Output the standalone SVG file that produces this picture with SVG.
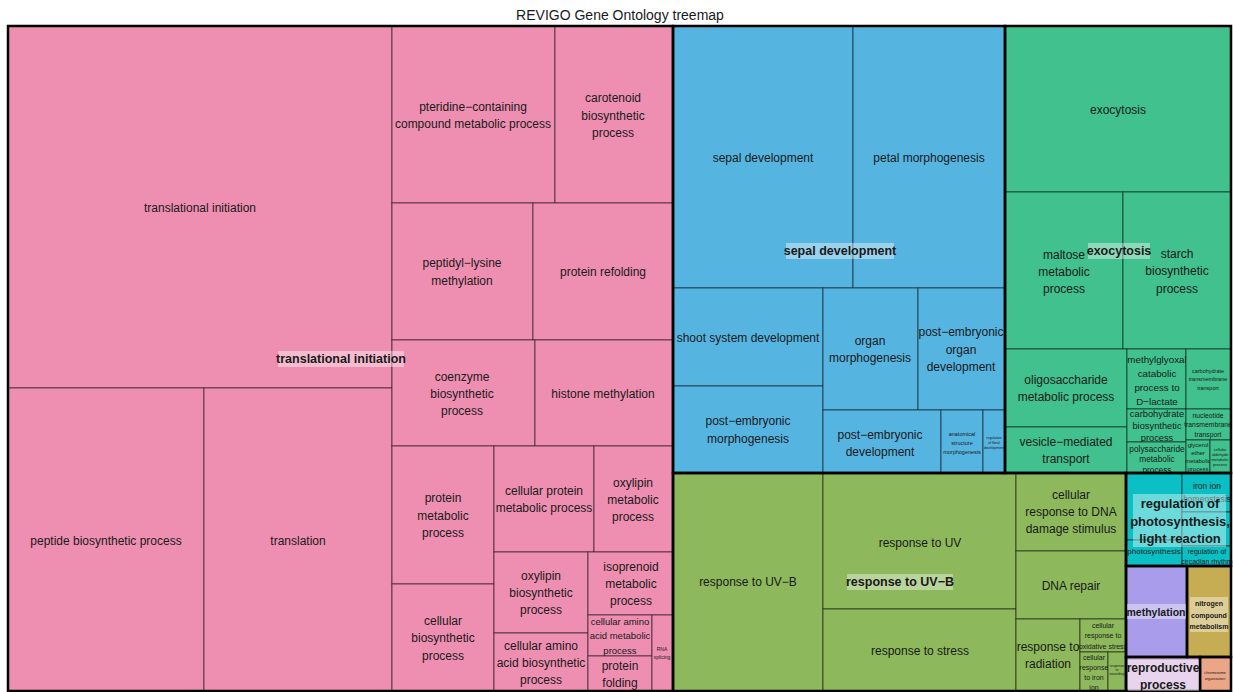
<svg xmlns="http://www.w3.org/2000/svg" width="1233" height="692" viewBox="0 0 1233 692">
<style>
text{font-family:"Liberation Sans",Arial,sans-serif;text-anchor:middle;dominant-baseline:central;fill:#1a1a1a}
.c rect{stroke:#000;stroke-opacity:0.55;stroke-width:1}
.pk{fill:#EE8FB1}.bl{fill:#56B4E1}.tg{fill:#40C18D}.og{fill:#8DB85C}.cy{fill:#0AC0C4}.pu{fill:#A99DEB}.ol{fill:#C6AD53}.li{fill:#D9B7E1}.sa{fill:#EBA688}
.grp{fill:none;stroke:#000;stroke-width:2.5}
.t{font-size:12px}
.b{font-weight:bold}
.bg{fill:#fff;fill-opacity:0.4}
</style>
<rect width="1233" height="692" fill="#fff"/>
<text x="620" y="15" style="font-size:14px">REVIGO Gene Ontology treemap</text>

<g id="pink" class="c">
<g id="n-translational-initiation"><rect class="pk" x="8" y="26" width="384" height="362"/><text class="t" x="200" y="208">translational initiation</text></g>
<g id="n-peptide-biosynthetic"><rect class="pk" x="8" y="388" width="196" height="303"/><text class="t" x="106" y="541">peptide biosynthetic process</text></g>
<g id="n-translation"><rect class="pk" x="204" y="388" width="188" height="303"/><text class="t" x="298" y="541">translation</text></g>
<g id="n-pteridine"><rect class="pk" x="392" y="26" width="163" height="177"/><text class="t" x="473" y="107">pteridine−containing</text><text class="t" x="473" y="124">compound metabolic process</text></g>
<g id="n-carotenoid"><rect class="pk" x="555" y="26" width="118" height="177"/><text class="t" x="613" y="98">carotenoid</text><text class="t" x="613" y="116">biosynthetic</text><text class="t" x="613" y="133">process</text></g>
<g id="n-peptidyl-lysine"><rect class="pk" x="392" y="203" width="141" height="137"/><text class="t" x="462" y="263">peptidyl−lysine</text><text class="t" x="462" y="281">methylation</text></g>
<g id="n-protein-refolding"><rect class="pk" x="533" y="203" width="140" height="137"/><text class="t" x="603" y="272">protein refolding</text></g>
<g id="n-coenzyme"><rect class="pk" x="392" y="340" width="143" height="106"/><text class="t" x="462" y="377">coenzyme</text><text class="t" x="462" y="394">biosynthetic</text><text class="t" x="462" y="411">process</text></g>
<g id="n-histone-methylation"><rect class="pk" x="535" y="340" width="138" height="106"/><text class="t" x="603" y="394">histone methylation</text></g>
<g id="n-protein-metabolic"><rect class="pk" x="392" y="446" width="102" height="138"/><text class="t" x="443" y="498">protein</text><text class="t" x="443" y="516">metabolic</text><text class="t" x="443" y="533">process</text></g>
<g id="n-cellular-biosynthetic"><rect class="pk" x="392" y="584" width="102" height="107"/><text class="t" x="443" y="621">cellular</text><text class="t" x="443" y="638">biosynthetic</text><text class="t" x="443" y="656">process</text></g>
<g id="n-cellular-protein-metabolic"><rect class="pk" x="494" y="446" width="100" height="106"/><text class="t" x="544" y="491">cellular protein</text><text class="t" x="544" y="508">metabolic process</text></g>
<g id="n-oxylipin-metabolic"><rect class="pk" x="594" y="446" width="79" height="106"/><text class="t" x="633" y="483">oxylipin</text><text class="t" x="633" y="500">metabolic</text><text class="t" x="633" y="517">process</text></g>
<g id="n-oxylipin-biosynthetic"><rect class="pk" x="494" y="552" width="94" height="81"/><text class="t" x="541" y="576">oxylipin</text><text class="t" x="541" y="593">biosynthetic</text><text class="t" x="541" y="610">process</text></g>
<g id="n-cellular-amino-acid-biosynthetic"><rect class="pk" x="494" y="633" width="94" height="58"/><text class="t" x="541" y="646">cellular amino</text><text class="t" x="541" y="663">acid biosynthetic</text><text class="t" x="541" y="680">process</text></g>
<g id="n-isoprenoid"><rect class="pk" x="588" y="552" width="85" height="63"/><text class="t" x="631" y="567">isoprenoid</text><text class="t" x="631" y="584">metabolic</text><text class="t" x="631" y="601">process</text></g>
<g id="n-cellular-amino-acid-metabolic"><rect class="pk" x="588" y="615" width="64" height="41"/><text x="620" y="621" style="font-size:9.5px">cellular amino</text><text x="620" y="635" style="font-size:9.5px">acid metabolic</text><text x="620" y="650" style="font-size:9.5px">process</text></g>
<g id="n-protein-folding"><rect class="pk" x="588" y="656" width="64" height="35"/><text class="t" x="620" y="666">protein</text><text class="t" x="620" y="683">folding</text></g>
<g id="n-rna-splicing"><rect class="pk" x="652" y="615" width="21" height="76"/><text x="662" y="649" style="font-size:5px">RNA</text><text x="662" y="657" style="font-size:5px">splicing</text></g>
</g>

<g id="blue" class="c">
<g id="n-sepal-development"><rect class="bl" x="673" y="26" width="180" height="262"/><text class="t" x="763" y="158">sepal development</text></g>
<g id="n-petal-morphogenesis"><rect class="bl" x="853" y="26" width="152" height="262"/><text class="t" x="929" y="158">petal morphogenesis</text></g>
<g id="n-shoot-system"><rect class="bl" x="673" y="288" width="150" height="98"/><text class="t" x="748" y="338">shoot system development</text></g>
<g id="n-post-embryonic-morphogenesis"><rect class="bl" x="673" y="386" width="150" height="87"/><text class="t" x="748" y="421">post−embryonic</text><text class="t" x="748" y="439">morphogenesis</text></g>
<g id="n-organ-morphogenesis"><rect class="bl" x="823" y="288" width="95" height="122"/><text class="t" x="870" y="341">organ</text><text class="t" x="870" y="358">morphogenesis</text></g>
<g id="n-post-embryonic-organ"><rect class="bl" x="918" y="288" width="87" height="122"/><text class="t" x="961" y="332">post−embryonic</text><text class="t" x="961" y="350">organ</text><text class="t" x="961" y="367">development</text></g>
<g id="n-post-embryonic-development"><rect class="bl" x="823" y="410" width="118" height="63"/><text class="t" x="880" y="435">post−embryonic</text><text class="t" x="880" y="452">development</text></g>
<g id="n-anatomical-structure"><rect class="bl" x="941" y="410" width="42" height="63"/><text x="962" y="434" style="font-size:5.5px">anatomical</text><text x="962" y="443" style="font-size:5.5px">structure</text><text x="962" y="452" style="font-size:5.5px">morphogenesis</text></g>
<g id="n-regulation-development"><rect class="bl" x="983" y="410" width="22" height="63"/><text x="994" y="438" style="font-size:3.5px">regulation</text><text x="994" y="443" style="font-size:3.5px">of floral</text><text x="994" y="448" style="font-size:3.5px">development</text></g>
</g>

<g id="teal" class="c">
<g id="n-exocytosis"><rect class="tg" x="1005" y="26" width="226" height="166"/><text class="t" x="1118" y="110">exocytosis</text></g>
<g id="n-maltose"><rect class="tg" x="1005" y="192" width="118" height="157"/><text class="t" x="1064" y="255">maltose</text><text class="t" x="1064" y="272">metabolic</text><text class="t" x="1064" y="289">process</text></g>
<g id="n-starch"><rect class="tg" x="1123" y="192" width="108" height="157"/><text class="t" x="1177" y="254">starch</text><text class="t" x="1177" y="271">biosynthetic</text><text class="t" x="1177" y="289">process</text></g>
<g id="n-oligosaccharide"><rect class="tg" x="1005" y="349" width="122" height="78"/><text class="t" x="1066" y="380">oligosaccharide</text><text class="t" x="1066" y="397">metabolic process</text></g>
<g id="n-vesicle"><rect class="tg" x="1005" y="427" width="122" height="46"/><text class="t" x="1066" y="442">vesicle−mediated</text><text class="t" x="1066" y="459">transport</text></g>
<g id="n-methylglyoxal"><rect class="tg" x="1127" y="349" width="59" height="60"/><text x="1157" y="359" style="font-size:9.8px">methylglyoxal</text><text x="1157" y="373" style="font-size:9.8px">catabolic</text><text x="1157" y="387" style="font-size:9.8px">process to</text><text x="1157" y="401" style="font-size:9.8px">D−lactate</text></g>
<g id="n-carbohydrate-transmembrane"><rect class="tg" x="1186" y="349" width="45" height="60"/><text x="1208" y="371" style="font-size:5.5px">carbohydrate</text><text x="1208" y="379" style="font-size:5.5px">transmembrane</text><text x="1208" y="388" style="font-size:5.5px">transport</text></g>
<g id="n-carbohydrate-biosynthetic"><rect class="tg" x="1127" y="409" width="59" height="33"/><text x="1157" y="414" style="font-size:9.3px">carbohydrate</text><text x="1157" y="426" style="font-size:9.3px">biosynthetic</text><text x="1157" y="438" style="font-size:9.3px">process</text></g>
<g id="n-nucleotide-transmembrane"><rect class="tg" x="1186" y="409" width="45" height="31"/><text x="1208" y="415" style="font-size:6.8px">nucleotide</text><text x="1208" y="424" style="font-size:6.8px">transmembrane</text><text x="1208" y="434" style="font-size:6.8px">transport</text></g>
<g id="n-polysaccharide"><rect class="tg" x="1127" y="442" width="59" height="31"/><text x="1157" y="449" style="font-size:8.3px">polysaccharide</text><text x="1157" y="459" style="font-size:8.3px">metabolic</text><text x="1157" y="470" style="font-size:8.3px">process</text></g>
<g id="n-glycerol-ether"><rect class="tg" x="1186" y="440" width="24" height="33"/><text x="1198" y="445" style="font-size:6px">glycerol</text><text x="1198" y="453" style="font-size:6px">ether</text><text x="1198" y="461" style="font-size:6px">metabolic</text><text x="1198" y="469" style="font-size:6px">process</text></g>
<g id="n-cellular-aldehyde"><rect class="tg" x="1210" y="440" width="21" height="33"/><text x="1220" y="449" style="font-size:4px">cellular</text><text x="1220" y="454" style="font-size:4px">aldehyde</text><text x="1220" y="459" style="font-size:4px">metabolic</text><text x="1220" y="464" style="font-size:4px">process</text></g>
</g>

<g id="olive" class="c">
<g id="n-response-uvb"><rect class="og" x="673" y="473" width="150" height="218"/><text class="t" x="748" y="582">response to UV−B</text></g>
<g id="n-response-uv"><rect class="og" x="823" y="473" width="193" height="136"/><text class="t" x="920" y="543">response to UV</text></g>
<g id="n-response-stress"><rect class="og" x="823" y="609" width="193" height="82"/><text class="t" x="920" y="651">response to stress</text></g>
<g id="n-dna-damage"><rect class="og" x="1016" y="473" width="110" height="78"/><text class="t" x="1071" y="495">cellular</text><text class="t" x="1071" y="512">response to DNA</text><text class="t" x="1071" y="529">damage stimulus</text></g>
<g id="n-dna-repair"><rect class="og" x="1016" y="551" width="110" height="68"/><text class="t" x="1071" y="586">DNA repair</text></g>
<g id="n-response-radiation"><rect class="og" x="1016" y="619" width="64" height="72"/><text class="t" x="1048" y="647">response to</text><text class="t" x="1048" y="664">radiation</text></g>
<g id="n-oxidative-stress"><rect class="og" x="1080" y="619" width="46" height="33"/><text x="1103" y="625" style="font-size:7px">cellular</text><text x="1103" y="635" style="font-size:7px">response to</text><text x="1103" y="646" style="font-size:7px">oxidative stress</text></g>
<g id="n-iron-ion-response"><rect class="og" x="1080" y="652" width="28" height="39"/><text x="1094" y="657" style="font-size:7px">cellular</text><text x="1094" y="667" style="font-size:7px">response</text><text x="1094" y="677" style="font-size:7px">to iron</text><text x="1094" y="687" style="font-size:7px">ion</text></g>
<g id="n-wounding"><rect class="og" x="1108" y="652" width="18" height="39"/><text x="1117" y="666" style="font-size:3.5px">response</text><text x="1117" y="670" style="font-size:3.5px">to</text><text x="1117" y="674" style="font-size:3.5px">wounding</text></g>
</g>

<g id="cyan" class="c">
<g id="n-reg-photosynthesis"><rect class="cy" x="1126" y="473" width="56" height="67"/></g>
<g id="n-photosynthesis"><rect class="cy" x="1126" y="540" width="56" height="26"/><text x="1154" y="551" style="font-size:8px">photosynthesis</text></g>
<g id="n-iron-ion-homeostasis"><rect class="cy" x="1182" y="473" width="49" height="39"/><text x="1207" y="486" style="font-size:8.5px">iron ion</text><text x="1207" y="499" style="font-size:8.5px">homeostasis</text></g>
<g id="n-cyan-other"><rect class="cy" x="1182" y="512" width="49" height="34"/></g>
<g id="n-circadian"><rect class="cy" x="1182" y="546" width="49" height="20"/><text x="1207" y="551" style="font-size:7px">regulation of</text><text x="1207" y="561" style="font-size:7px">circadian rhythm</text></g>
</g>

<g id="small-groups" class="c">
<g id="n-methylation"><rect class="pu" x="1126" y="566" width="61" height="91"/></g>
<g id="n-nitrogen"><rect class="ol" x="1187" y="566" width="44" height="91"/></g>
<g id="n-reproductive"><rect class="li" x="1126" y="657" width="74" height="34"/></g>
<g id="n-chromosome"><rect class="sa" x="1200" y="657" width="31" height="34"/><text x="1215" y="673" style="font-size:3.8px">chromosome</text><text x="1215" y="679" style="font-size:3.8px">organization</text></g>
</g>

<g id="group-borders">
<rect class="grp" x="8" y="26" width="665" height="665"/>
<rect class="grp" x="673" y="26" width="332" height="447"/>
<rect class="grp" x="1005" y="26" width="226" height="447"/>
<rect class="grp" x="673" y="473" width="453" height="218"/>
<rect class="grp" x="1126" y="473" width="105" height="93"/>
<rect class="grp" x="1126" y="566" width="61" height="91"/>
<rect class="grp" x="1187" y="566" width="44" height="91"/>
<rect class="grp" x="1126" y="657" width="74" height="34"/>
<rect class="grp" x="1200" y="657" width="31" height="34"/>
</g>

<g id="group-labels">
<rect class="bg" x="278" y="351" width="126" height="16"/><text class="b" x="341" y="359" style="font-size:12.5px">translational initiation</text>
<rect class="bg" x="786" y="243" width="108" height="16"/><text class="b" x="840" y="251" style="font-size:12.5px">sepal development</text>
<rect class="bg" x="1088" y="243" width="62" height="16"/><text class="b" x="1119" y="251" style="font-size:12.5px">exocytosis</text>
<rect class="bg" x="847" y="574" width="106" height="16"/><text class="b" x="900" y="582" style="font-size:12.5px">response to UV−B</text>
<rect class="bg" x="1133" y="494" width="93" height="53"/><text class="b" x="1180" y="503" style="font-size:13px">regulation of</text><text class="b" x="1180" y="521" style="font-size:13px">photosynthesis,</text><text class="b" x="1180" y="538" style="font-size:13px">light reaction</text>
<rect class="bg" x="1127" y="604" width="59" height="15"/><text class="b" x="1156" y="612" style="font-size:10.5px">methylation</text>
<rect class="bg" x="1190" y="597" width="38" height="35"/><text class="b" x="1209" y="603" style="font-size:7px">nitrogen</text><text class="b" x="1209" y="615" style="font-size:7px">compound</text><text class="b" x="1209" y="626" style="font-size:7px">metabolism</text>
<rect class="bg" x="1128" y="660" width="71" height="31"/><text class="b" x="1163" y="668" style="font-size:12px">reproductive</text><text class="b" x="1163" y="685" style="font-size:12px">process</text>
</g>
</svg>
